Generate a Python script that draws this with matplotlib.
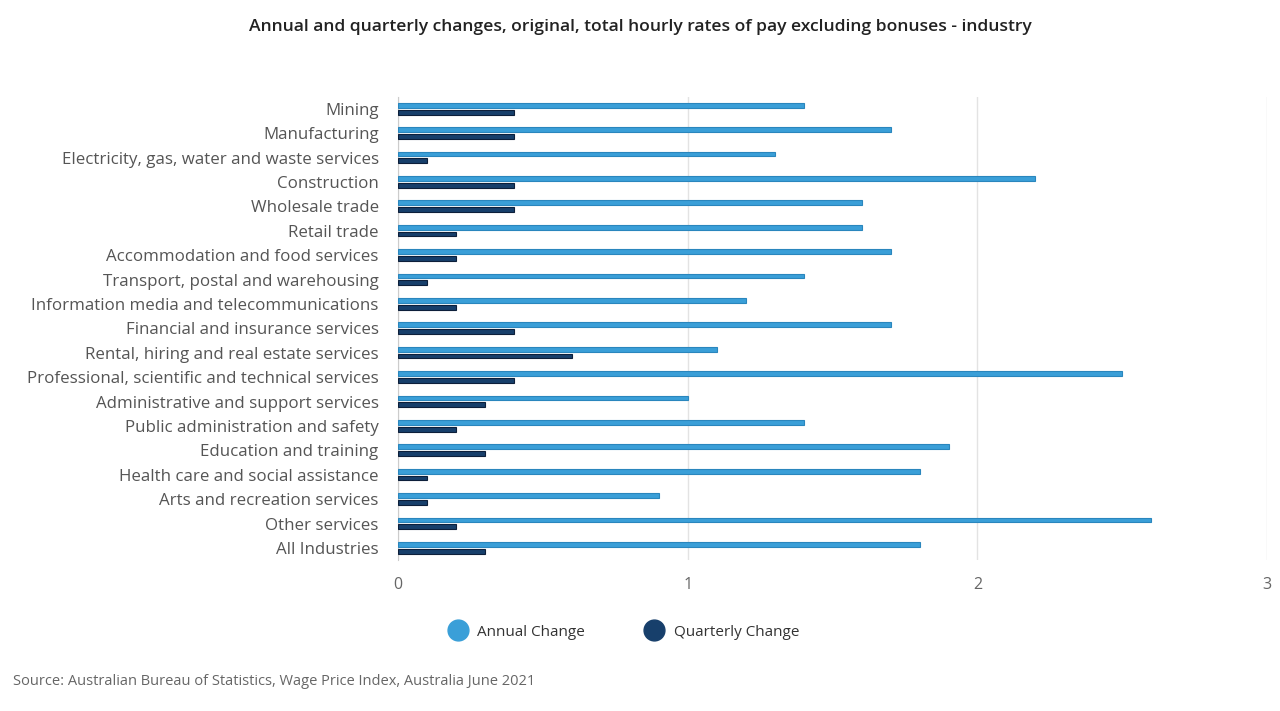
import numpy as np
import matplotlib
matplotlib.use('Agg')
from matplotlib import pyplot as plt
from matplotlib.lines import Line2D

industries = ['Mining', 'Manufacturing', 'Electricity, gas, water and waste services',
              'Construction', 'Wholesale trade', 'Retail trade',
              'Accommodation and food services', 'Transport, postal and warehousing',
              'Information media and telecommunications', 'Financial and insurance services',
              'Rental, hiring and real estate services',
              'Professional, scientific and technical services',
              'Administrative and support services', 'Public administration and safety',
              'Education and training', 'Health care and social assistance',
              'Arts and recreation services', 'Other services', 'All Industries']
annual = [1.4, 1.7, 1.3, 2.2, 1.6, 1.6, 1.7, 1.4, 1.2, 1.7, 1.1, 2.5, 1.0, 1.4, 1.9, 1.8, 0.9, 2.6, 1.8]
quarterly = [0.4, 0.4, 0.1, 0.4, 0.4, 0.2, 0.2, 0.1, 0.2, 0.4, 0.6, 0.4, 0.3, 0.2, 0.3, 0.1, 0.1, 0.2, 0.3]
xticks = [0, 1, 2, 3]

light = '#3a9fd8'
dark = '#173f6b'

plt.rcParams['font.family'] = ['Open Sans', 'DejaVu Sans']

fig = plt.figure(figsize=(12.8, 7.11), dpi=100)
ax = fig.add_axes([0.311, 0.212, 0.679, 0.652])

y = np.arange(len(industries))
ax.barh(y - 0.15, annual, height=0.2, color=light, edgecolor='#2a86bd', linewidth=0.8, zorder=3)
ax.barh(y + 0.13, quarterly, height=0.2, color=dark, edgecolor='#0d1f3a', linewidth=0.8, zorder=3)

ax.set_ylim(len(industries) - 0.5, -0.5)
ax.set_xlim(0, 3)
ax.set_yticks(y)
ax.set_yticklabels(industries, fontsize=12.2, color='#555555')
ax.set_xticks(xticks)
ax.set_xticklabels([str(t) for t in xticks], fontsize=11.5, color='#666666')
ax.tick_params(axis='y', length=0, pad=14)
ax.tick_params(axis='x', length=0, pad=12)
ax.grid(axis='x', color='#e3e3e3', linewidth=1, zorder=0)
for s in ['top', 'right', 'bottom']:
    ax.spines[s].set_visible(False)
ax.spines['left'].set_color('#cccccc')

fig.text(0.5, 0.962, 'Annual and quarterly changes, original, total hourly rates of pay excluding bonuses - industry',
         ha='center', va='center', fontsize=12.6, fontweight='semibold', color='#222222')

handles = [Line2D([], [], marker='o', linestyle='', markersize=15, color=light, label='Annual Change'),
           Line2D([], [], marker='o', linestyle='', markersize=15, color=dark, label='Quarterly Change')]
fig.legend(handles=handles, loc='center', bbox_to_anchor=(0.485, 0.111), ncol=2, frameon=False,
           fontsize=11, handletextpad=0.3, columnspacing=3.5, labelcolor='#333333')

fig.text(0.01, 0.042, 'Source: Australian Bureau of Statistics, Wage Price Index, Australia June 2021',
         ha='left', va='center', fontsize=10.5, color='#666666')

plt.savefig('out.png', dpi=100)
